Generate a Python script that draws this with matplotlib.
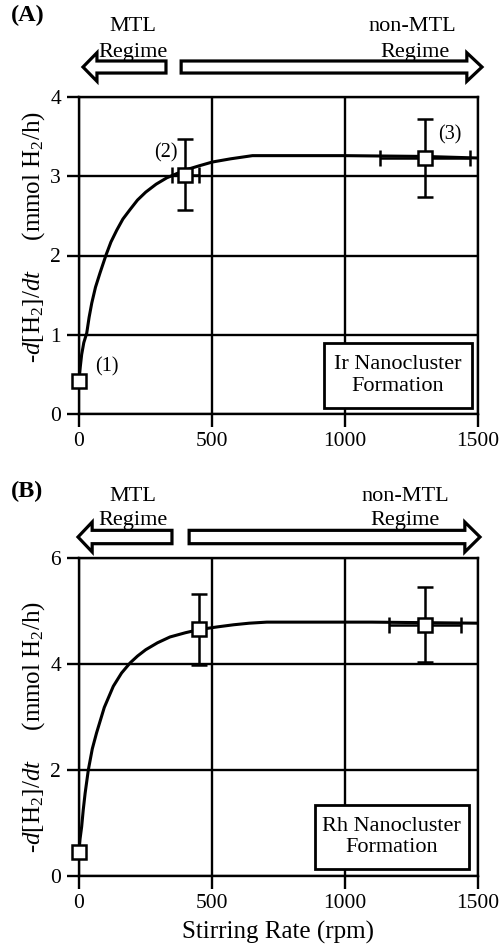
import matplotlib
matplotlib.use("Agg")
import matplotlib.pyplot as plt
from matplotlib.patches import Polygon, Rectangle

plt.rcParams['font.family'] = ['Liberation Serif', 'DejaVu Serif']
plt.rcParams['mathtext.fontset'] = 'custom'
plt.rcParams['mathtext.rm'] = 'Liberation Serif'
plt.rcParams['mathtext.it'] = 'Liberation Serif:italic'
plt.rcParams['mathtext.bf'] = 'Liberation Serif:bold'

# ---------------- data ----------------
# Panel A (Ir)
curve_a_x = [0, 5, 10, 18, 29, 38, 48, 62, 79, 102, 120, 142, 165, 192, 220, 251, 290, 330, 365, 401, 450, 502, 570, 652, 800, 1000, 1300, 1500]
curve_a_y = [0.42, 0.60, 0.75, 0.90, 1.02, 1.22, 1.40, 1.60, 1.78, 2.01, 2.17, 2.32, 2.46, 2.58, 2.70, 2.80, 2.90, 2.98, 3.03, 3.08, 3.13, 3.18, 3.22, 3.26, 3.26, 3.26, 3.25, 3.23]
pts_a_x = [0, 400, 1300]
pts_a_y = [0.42, 3.02, 3.23]
pts_a_yerr = [0.0, 0.45, 0.49]
pts_a_xerr = [0.0, 50, 170]
pts_a_labels = ['(1)', '(2)', '(3)']

# Panel B (Rh)
curve_b_x = [0, 4, 10, 16, 23, 35, 50, 66, 95, 129, 160, 192, 220, 251, 295, 342, 400, 452, 520, 581, 640, 706, 900, 1100, 1300, 1500]
curve_b_y = [0.46, 0.70, 0.93, 1.25, 1.56, 2.00, 2.40, 2.70, 3.18, 3.58, 3.83, 4.02, 4.15, 4.27, 4.40, 4.51, 4.59, 4.65, 4.70, 4.74, 4.77, 4.79, 4.79, 4.79, 4.78, 4.77]
pts_b_x = [0, 451, 1300]
pts_b_y = [0.46, 4.66, 4.74]
pts_b_yerr = [0.0, 0.67, 0.71]
pts_b_xerr = [0.0, 0.0, 135]

xticks = [0, 500, 1000, 1500]
yticks_a = [0, 1, 2, 3, 4]
yticks_b = [0, 2, 4, 6]

# ---------------- figure ----------------
W, H = 502, 950
fig = plt.figure(figsize=(W / 100, H / 100), dpi=100)

def axes_rect(l, t, r, b):
    return [l / W, 1 - b / H, (r - l) / W, (b - t) / H]

axA = fig.add_axes(axes_rect(79, 97, 478, 414))
axB = fig.add_axes(axes_rect(79, 558, 478, 876))

LW = 1.7
FS_TICK = 15.5

def style(ax, yticks):
    ax.set_xlim(0, 1500)
    ax.set_ylim(yticks[0], yticks[-1])
    ax.set_xticks(xticks)
    ax.set_yticks(yticks)
    ax.grid(True, color='black', linewidth=LW)
    ax.set_axisbelow(True)
    for s in ax.spines.values():
        s.set_linewidth(LW)
        s.set_color('black')
    ax.tick_params(direction='out', length=9, width=LW, labelsize=FS_TICK, pad=4)

def draw_series(ax, cx, cy, px, py, pxerr, pyerr):
    ax.plot(cx, cy, color='black', lw=2.2, zorder=3, solid_capstyle='round',
            solid_joinstyle='round')
    for x, y, xe, ye in zip(px, py, pxerr, pyerr):
        if ye > 0 or xe > 0:
            ax.errorbar([x], [y], yerr=[ye] if ye > 0 else None,
                        xerr=[xe] if xe > 0 else None,
                        fmt='none', ecolor='black', elinewidth=1.8,
                        capsize=5.5, capthick=1.8, zorder=4)
    ax.plot(px, py, linestyle='none', marker='s', markersize=9.5,
            markerfacecolor='white', markeredgecolor='black',
            markeredgewidth=1.8, zorder=5, clip_on=False)

def arrows(ax, yc, body, head, left_tip, left_base, left_tail, right_tail, right_base, right_tip):
    left = [(left_tip, yc), (left_base, yc + head), (left_base, yc + body),
            (left_tail, yc + body), (left_tail, yc - body), (left_base, yc - body),
            (left_base, yc - head)]
    right = [(right_tip, yc), (right_base, yc + head), (right_base, yc + body),
             (right_tail, yc + body), (right_tail, yc - body), (right_base, yc - body),
             (right_base, yc - head)]
    for poly in (left, right):
        ax.add_patch(Polygon(poly, closed=True, facecolor='white', edgecolor='black',
                             linewidth=2.3, transform=ax.transAxes, clip_on=False,
                             joinstyle='miter'))

def label_box(ax, l, b, r, t, text, fs=16):
    ax.add_patch(Rectangle((l, b), r - l, t - b, transform=ax.transAxes,
                           facecolor='white', edgecolor='black', linewidth=2.0, zorder=6))
    ax.text((l + r) / 2, (b + t) / 2, text, transform=ax.transAxes, ha='center',
            va='center', fontsize=fs, linespacing=1.2, zorder=7)

ylabel = r'-$d$[H$_2$]/$dt$     (mmol H$_2$/h)'

# ---- Panel A ----
style(axA, yticks_a)
draw_series(axA, curve_a_x, curve_a_y, pts_a_x, pts_a_y, pts_a_xerr, pts_a_yerr)
axA.text(105, 0.59, pts_a_labels[0], fontsize=14.5, ha='center', va='center', zorder=7)
axA.text(327, 3.29, pts_a_labels[1], fontsize=14.5, ha='center', va='center', zorder=7)
axA.text(1395, 3.52, pts_a_labels[2], fontsize=14.5, ha='center', va='center', zorder=7)
label_box(axA, 0.614, 0.019, 0.985, 0.224, 'Ir Nanocluster\nFormation')
axA.text(-0.115, 0.558, ylabel, transform=axA.transAxes, rotation=90,
         ha='center', va='center', fontsize=18)
arrows(axA, 1.0946, 0.019, 0.045, 0.010, 0.045, 0.218, 0.256, 0.972, 1.010)
axA.text(0.135, 1.221, 'MTL', transform=axA.transAxes, ha='center', va='center', fontsize=16)
axA.text(0.135, 1.139, 'Regime', transform=axA.transAxes, ha='center', va='center', fontsize=16)
axA.text(0.835, 1.221, 'non-MTL', transform=axA.transAxes, ha='center', va='center', fontsize=16)
axA.text(0.842, 1.139, 'Regime', transform=axA.transAxes, ha='center', va='center', fontsize=16)

# ---- Panel B ----
style(axB, yticks_b)
draw_series(axB, curve_b_x, curve_b_y, pts_b_x, pts_b_y, pts_b_xerr, pts_b_yerr)
label_box(axB, 0.591, 0.022, 0.977, 0.223, 'Rh Nanocluster\nFormation')
axB.text(-0.115, 0.469, ylabel, transform=axB.transAxes, rotation=90,
         ha='center', va='center', fontsize=18)
arrows(axB, 1.066, 0.021, 0.047, -0.0025, 0.033, 0.233, 0.276, 0.967, 1.005)
axB.text(0.135, 1.192, 'MTL', transform=axB.transAxes, ha='center', va='center', fontsize=16)
axB.text(0.135, 1.119, 'Regime', transform=axB.transAxes, ha='center', va='center', fontsize=16)
axB.text(0.817, 1.192, 'non-MTL', transform=axB.transAxes, ha='center', va='center', fontsize=16)
axB.text(0.817, 1.119, 'Regime', transform=axB.transAxes, ha='center', va='center', fontsize=16)
axB.set_xlabel('Stirring Rate (rpm)', fontsize=18, labelpad=6)

fig.text(11 / W, 1 - 15 / H, '(A)', fontsize=17.5, fontweight='bold', ha='left', va='center')
fig.text(11 / W, 1 - 491 / H, '(B)', fontsize=17.5, fontweight='bold', ha='left', va='center')

fig.savefig('out.png', dpi=100)
